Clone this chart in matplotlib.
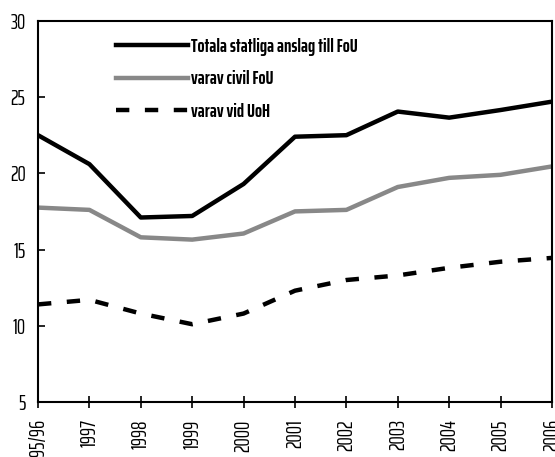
import numpy as np
import matplotlib.pyplot as plt
from matplotlib import font_manager

# Kategorier och serier (miljarder kr)
ar = ['1995/96', '1997', '1998', '1999', '2000', '2001', '2002', '2003', '2004', '2005', '2006']
totala = [22.5, 20.6, 17.1, 17.2, 19.3, 22.4, 22.5, 24.05, 23.65, 24.15, 24.7]
civil = [17.75, 17.6, 15.8, 15.65, 16.05, 17.5, 17.6, 19.1, 19.7, 19.9, 20.45]
uoh = [11.4, 11.7, 10.8, 10.1, 10.8, 12.3, 13.0, 13.3, 13.8, 14.2, 14.45]

namn = ['Totala statliga anslag till FoU', 'varav civil FoU', 'varav vid UoH']

# smal font om den finns
installed = {f.name for f in font_manager.fontManager.ttflist}
fam = 'DejaVu Sans'
for kandidat in ['Saira ExtraCondensed', 'PT Sans Narrow', 'Barlow Condensed']:
    if kandidat in installed:
        fam = kandidat
        break
plt.rcParams['font.family'] = [fam, 'DejaVu Sans']

fig = plt.figure(figsize=(5.55, 4.57), dpi=100)
ax = fig.add_axes([0.0685, 0.1204, 0.926, 0.834])

x = np.arange(len(ar))
ax.plot(x, totala, color='black', linewidth=3.2, label=namn[0])
ax.plot(x, civil, color='#888888', linewidth=3.2, label=namn[1])
ax.plot(x, uoh, color='black', linewidth=3.2, linestyle=(0, (3, 3.5)), label=namn[2])

ax.set_xlim(0, len(ar) - 1)
ax.set_ylim(5, 30)
ax.set_yticks([5, 10, 15, 20, 25, 30])
ax.set_xticks(x)
ax.set_xticklabels(ar, rotation=90, fontsize=15)
ax.tick_params(axis='y', direction='in', length=5, width=1.2, labelsize=15, pad=9)
ax.tick_params(axis='x', direction='inout', length=9, width=1.2, pad=8)
for s in ax.spines.values():
    s.set_linewidth(1.5)

leg = ax.legend(loc='upper left', bbox_to_anchor=(0.119, 1.0), frameon=False,
                handlelength=3.85, handletextpad=0.15, labelspacing=0.78,
                prop={'family': [fam, 'DejaVu Sans'], 'weight': 'bold', 'size': 13.5})

fig.savefig('out.png', dpi=100)
